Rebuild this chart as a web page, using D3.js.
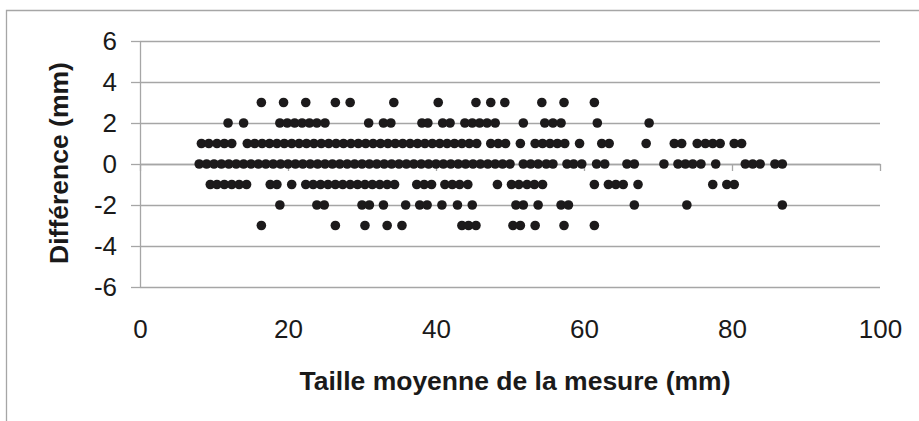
<!DOCTYPE html>
<html>
<head>
<meta charset="utf-8">
<script src="https://cdn.jsdelivr.net/npm/d3@7"></script>
<style>
  html, body { margin: 0; padding: 0; background: #fff; }
  svg { display: block; font-family: "Liberation Sans", Arial, sans-serif; }
  .grid line { stroke: #a6a6a6; stroke-width: 1.3; }
  .axis path, .axis line { stroke: #a6a6a6; stroke-width: 1.3; }
  .axis text { fill: #1a1a1a; font-size: 26px; }
  .axis-title { fill: #1a1a1a; font-size: 26.5px; font-weight: bold; }
</style>
</head>
<body>
<div id="chart"></div>
<script>
// differences (mm), one list per level
const diffPlus3 = [16.4, 19.4, 22.4, 26.4, 28.4, 34.3, 40.3, 45.4, 47.4, 49.3, 54.3, 57.3, 61.4];
const diffPlus2 = [11.9, 14.0, 18.9, 19.9, 20.9, 21.9, 22.9, 23.9, 25.0, 30.9, 32.9, 33.9, 38.1, 38.9,
  40.9, 41.9, 43.9, 44.9, 45.9, 46.9, 48.0, 51.8, 54.7, 55.8, 56.9, 61.8, 68.8];
const diffPlus1 = [8.3, 9.3, 10.4, 11.4, 12.4,
  14.5, 15.5, 16.5, 17.5, 18.5, 19.5, 20.5, 21.5, 22.5, 23.5, 24.5, 25.5, 26.5, 27.5, 28.5, 29.5,
  30.5, 31.5, 32.5, 33.5, 34.5, 35.5, 36.5, 37.5, 38.5, 39.5, 40.5, 41.5, 42.5, 43.5, 44.5, 45.5,
  47.4, 48.4, 49.4, 51.4, 53.4, 54.4, 55.4, 56.4, 57.4, 59.4, 62.4, 63.4, 68.4, 72.2, 73.2,
  75.3, 76.4, 77.4, 78.4, 80.3, 81.3];
const diffZero = [8, 9, 10, 11, 12, 13, 14, 15, 16, 17, 18, 19, 20, 21, 22, 23, 24, 25, 26, 27, 28, 29,
  30, 31, 32, 33, 34, 35, 36, 37, 38, 39, 40, 41, 42, 43, 44, 45, 46, 47, 48, 49, 50,
  51.8, 52.8, 53.8, 54.9, 55.8, 57.7, 58.6, 59.7, 61.7, 62.8, 65.8, 66.8, 70.8, 72.7, 73.7,
  74.7, 75.8, 77.8, 81.8, 82.8, 83.8, 85.8, 86.8];
const diffMinus1 = [9.5, 10.4, 11.4, 12.4, 13.4, 14.4, 17.6, 18.5, 20.5, 22.4, 23.4, 24.4, 25.4,
  26.4, 27.4, 28.4, 29.4, 30.4, 31.4, 32.4, 33.4, 34.4, 37.4, 38.4, 39.4, 41.2, 42.2, 43.2, 44.3,
  48.3, 50.2, 51.2, 52.3, 53.3, 54.4, 61.4, 63.3, 64.3, 65.3, 67.3, 77.4, 79.3, 80.3];
const diffMinus2 = [18.9, 23.9, 24.9, 30.0, 31.0, 32.9, 35.9, 37.8, 38.8, 40.8, 42.9, 44.9, 50.8,
  51.8, 53.8, 56.9, 57.9, 66.8, 73.9, 86.8];
const diffMinus3 = [16.4, 26.4, 30.4, 33.4, 35.4, 43.5, 44.4, 45.4, 50.4, 51.4, 53.4, 57.3, 61.4];

const xTicks = [0, 20, 40, 60, 80, 100];
const yTicks = [-6, -4, -2, 0, 2, 4, 6];
const xTitle = "Taille moyenne de la mesure (mm)";
const yTitle = "Différence (mm)";

const levels = [
  { diff: 3, sizes: diffPlus3 },
  { diff: 2, sizes: diffPlus2 },
  { diff: 1, sizes: diffPlus1 },
  { diff: 0, sizes: diffZero },
  { diff: -1, sizes: diffMinus1 },
  { diff: -2, sizes: diffMinus2 },
  { diff: -3, sizes: diffMinus3 }
];
const points = levels.flatMap((l) => l.sizes.map((s) => ({ size: s, diff: l.diff })));

const width = 919;
const height = 421;
const margin = { top: 41, right: 39, bottom: 134, left: 140 };
const innerWidth = width - margin.left - margin.right;
const innerHeight = height - margin.top - margin.bottom;

const svg = d3.select("#chart")
  .append("svg")
  .attr("width", width)
  .attr("height", height);

// outer chart frame (only left and top edges show inside the picture)
svg.append("path")
  .attr("d", `M6.5,${height}V10.5H${width}`)
  .attr("fill", "none")
  .attr("stroke", "#a6a6a6")
  .attr("stroke-width", 1.3);

const g = svg.append("g").attr("transform", `translate(${margin.left},${margin.top})`);

const x = d3.scaleLinear().domain([0, 100]).range([0, innerWidth]);
const y = d3.scaleLinear().domain([-6, 6]).range([innerHeight, 0]);

g.append("g")
  .attr("class", "grid")
  .call(d3.axisLeft(y).tickValues(yTicks).tickSize(-innerWidth).tickFormat(""))
  .call((s) => s.select(".domain").remove())
  .call((s) => s.selectAll("text").remove());

g.append("g")
  .attr("class", "axis")
  .call(d3.axisLeft(y).tickValues(yTicks).tickSizeInner(9).tickSizeOuter(0).tickPadding(14)
    .tickFormat((d) => String(d)));

// horizontal axis line at zero with small ticks
g.append("g")
  .attr("class", "axis")
  .attr("transform", `translate(0,${y(0)})`)
  .call(d3.axisBottom(x).tickValues(xTicks).tickSizeInner(7).tickSizeOuter(0).tickFormat(""))
  .call((s) => s.selectAll("text").remove());

// x labels sit below the plot area
g.append("g")
  .attr("class", "axis")
  .attr("transform", `translate(0,${innerHeight})`)
  .call(d3.axisBottom(x).tickValues(xTicks).tickSize(0).tickPadding(33))
  .call((s) => s.select(".domain").remove());

g.selectAll("circle.dot")
  .data(points)
  .enter()
  .append("circle")
  .attr("class", "dot")
  .attr("cx", (d) => x(d.size))
  .attr("cy", (d) => y(d.diff))
  .attr("r", 4.8)
  .attr("fill", "#1c1a1b");

svg.append("text")
  .attr("class", "axis-title")
  .attr("x", 515)
  .attr("y", 390)
  .attr("text-anchor", "middle")
  .text(xTitle);

svg.append("text")
  .attr("class", "axis-title")
  .attr("transform", "translate(68,163) rotate(-90)")
  .attr("text-anchor", "middle")
  .text(yTitle);
</script>
</body>
</html>
